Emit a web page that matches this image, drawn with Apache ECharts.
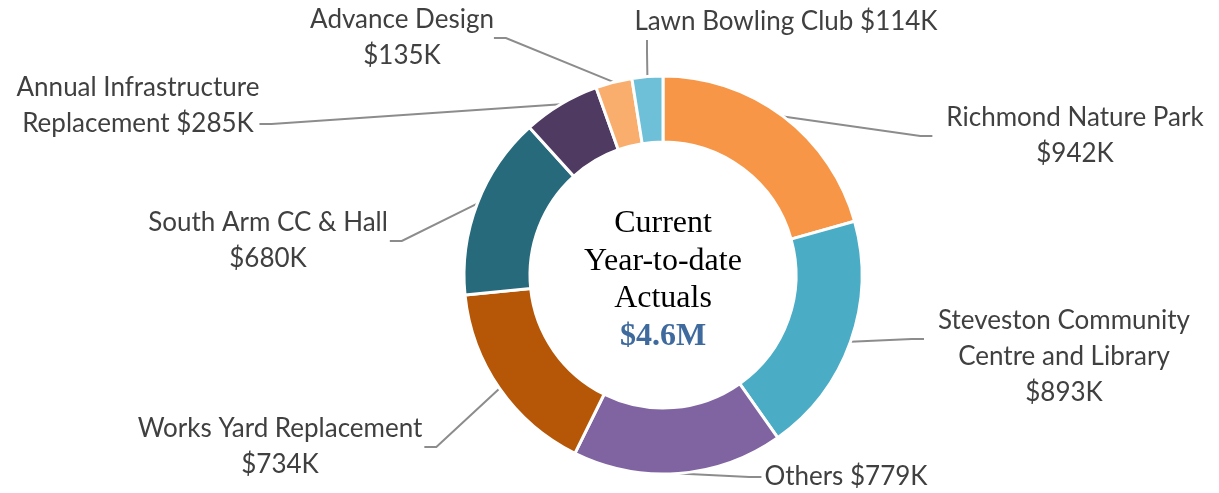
<!DOCTYPE html>
<html><head><meta charset="utf-8">
<script src="https://cdn.jsdelivr.net/npm/echarts@6/dist/echarts.min.js"></script>
<style>html,body{margin:0;padding:0;background:#fff}#c{width:1219px;height:493px}</style>
</head><body><div id="c"></div>
<script>
// ---- data ----
const categories = ['Richmond Nature Park', 'Steveston Community Centre and Library', 'Others', 'Works Yard Replacement', 'South Arm CC & Hall', 'Annual Infrastructure Replacement', 'Advance Design', 'Lawn Bowling Club'];
const labelNames = ['Richmond Nature Park', 'Steveston Community\nCentre and Library', 'Others', 'Works Yard Replacement', 'South Arm CC & Hall', 'Annual Infrastructure\nReplacement', 'Advance Design', 'Lawn Bowling Club'];
const valueSeparators = ['\n', '\n', ' ', '\n', '\n', ' ', '\n', ' '];
const valuesK = [942, 893, 779, 734, 680, 285, 135, 114];
const centerLines = ['Current', 'Year-to-date', 'Actuals'];

// ---- styles / layout ----
const palette = ['#F79646', '#4BACC6', '#8064A2', '#B65708', '#276A7C', '#4F3A62', '#F9AE6E', '#6DC0D8'];
// x, y: centre of the label block (incl. spacer lines); pad: [top, right, bottom, left]
// pre/post: empty spacer lines that move the leader-line anchor
const labelLayoutSpec = [
  {x: 1075, y: 136, pad: [0, 0, 0, 14], pre: '', post: ''},
  {x: 1064, y: 339, pad: [0, 0, 0, 14], pre: '\n', post: ''},
  {x: 846, y: 477, pad: [0, 0, 0, 3], pre: '', post: ''},
  {x: 280, y: 447, pad: [0, 2, 0, 0], pre: '', post: ''},
  {x: 268, y: 241, pad: [0, 2, 0, 0], pre: '', post: ''},
  {x: 138, y: 124, pad: [0, 0, 0, 0], pre: '', post: '\n'},
  {x: 402, y: 38, pad: [0, 0, 0, 0], pre: '', post: ''},
  {x: 786, y: 22, pad: [0, 0, 0, 278], pre: '', post: ''}
];

const total = valuesK.reduce((a, b) => a + b, 0);
const totalText = '$' + (total / 1000).toFixed(1) + 'M';

const seriesData = categories.map((name, i) => ({
  name: name,
  value: valuesK[i],
  label: {padding: labelLayoutSpec[i].pad},
  itemStyle: {color: palette[i]}
}));

const chart = echarts.init(document.getElementById('c'), null, {renderer: 'canvas'});
chart.setOption({
  animation: false,
  backgroundColor: '#ffffff',
  series: [{
    type: 'pie',
    center: [663, 275],
    radius: [133, 199],
    startAngle: 90,
    clockwise: true,
    avoidLabelOverlap: false,
    data: seriesData,
    itemStyle: {borderColor: '#ffffff', borderWidth: 3},
    label: {
      show: true,
      position: 'outside',
      formatter: p => {
        const L = labelLayoutSpec[p.dataIndex];
        return L.pre + labelNames[p.dataIndex] + valueSeparators[p.dataIndex] + '$' + p.value + 'K' + L.post;
      },
      fontFamily: 'Lato',
      fontSize: 26,
      lineHeight: 36,
      color: '#404040',
      backgroundColor: 'rgba(255,255,255,0)'
    },
    labelLine: {
      show: true,
      length: 10,
      length2: 12,
      minTurnAngle: 90,
      lineStyle: {color: '#8C8C8C', width: 2}
    },
    labelLayout: function (p) {
      const L = labelLayoutSpec[p.dataIndex];
      return {
        x: L.x - (L.pad[3] - L.pad[1]) / 2,
        y: L.y,
        align: 'center',
        verticalAlign: 'middle'
      };
    },
    emphasis: {disabled: true}
  }],
  graphic: [{
    type: 'text',
    x: 663,
    y: 280,
    silent: true,
    style: {
      text: centerLines.join('\n') + '\n{v|' + totalText + '}',
      textAlign: 'center',
      textVerticalAlign: 'middle',
      fontFamily: 'Liberation Serif',
      fontSize: 32,
      lineHeight: 37.5,
      fill: '#000000',
      rich: {
        v: {fontFamily: 'Liberation Serif', fontSize: 32, lineHeight: 37.5, fontWeight: 'bold', fill: '#3F6A9E', color: '#3F6A9E'}
      }
    }
  }]
});
</script>
</body></html>
